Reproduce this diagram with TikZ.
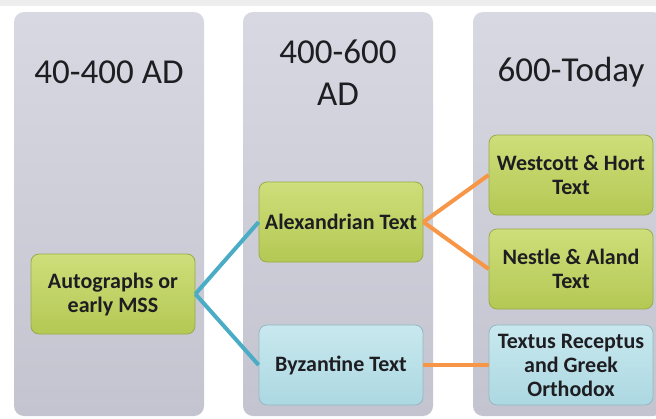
\documentclass[tikz,border=0pt]{standalone}
\usepackage{fontspec}
\setmainfont{Carlito}
\usepackage{xcolor}
\definecolor{eragray}{RGB}{216,216,226}
\definecolor{eragraydark}{RGB}{196,196,208}
\definecolor{boxgreen}{RGB}{180,200,84}
\definecolor{boxgreenlight}{RGB}{206,222,122}
\definecolor{boxblue}{RGB}{172,216,226}
\definecolor{boxbluelight}{RGB}{200,232,238}
\definecolor{linkblue}{RGB}{75,172,198}
\definecolor{linkorange}{RGB}{247,150,70}
\definecolor{textdark}{RGB}{30,30,34}

\begin{document}
\begin{tikzpicture}[x=0.5pt, y=-0.5pt,
    era/.style={rectangle, rounded corners=5pt, top color=eragray, bottom color=eragraydark, minimum width=95pt, minimum height=202pt, inner sep=0pt},
    eratitle/.style={font=\fontsize{17.5}{21}\selectfont, text=textdark, align=center},
    textbox/.style={rectangle, rounded corners=4pt, minimum width=82pt, minimum height=40pt, inner sep=1pt, align=center, font=\fontsize{11}{12}\selectfont\bfseries, text=textdark},
    greenbox/.style={textbox, top color=boxgreenlight, bottom color=boxgreen, draw=boxgreen!85!black},
    bluebox/.style={textbox, top color=boxbluelight, bottom color=boxblue, draw=boxblue!85!black},
    link/.style={line width=2pt}]
        \useasboundingbox (0,0) rectangle (656,418);
        \fill[black!7] (0,0) rectangle (656,6);

        % Eras
        \node[era] (col1) at (109,214) {};
        \node[era] (col2) at (338,214) {};
        \node[era] (col3) at (568,214) {};
        \node[eratitle] (t1) at (109,72) {40-400 AD};
        \node[eratitle] (t2) at (338,73) {400-600\\AD};
        \node[eratitle] (t3) at (571,72) {600-Today};

        % Text families
        \node[greenbox] (early) at (113,294) {Autographs or\\early MSS};
        \node[greenbox] (alex) at (341,222) {Alexandrian Text};
        \node[bluebox] (byz) at (341,365) {Byzantine Text};
        \node[greenbox] (wh) at (571,175) {Westcott \& Hort\\Text};
        \node[greenbox] (na) at (571,269) {Nestle \& Aland\\Text};
        \node[bluebox] (tr) at (571,365) {Textus Receptus\\and Greek\\Orthodox};

        \draw[link, linkblue] (early.east) -- (alex.west);
        \draw[link, linkblue] (early.east) -- (byz.west);
        \draw[link, linkorange] (alex.east) -- (wh.west);
        \draw[link, linkorange] (alex.east) -- (na.west);
        \draw[link, linkorange] (byz.east) -- (tr.west);
\end{tikzpicture}
\end{document}
